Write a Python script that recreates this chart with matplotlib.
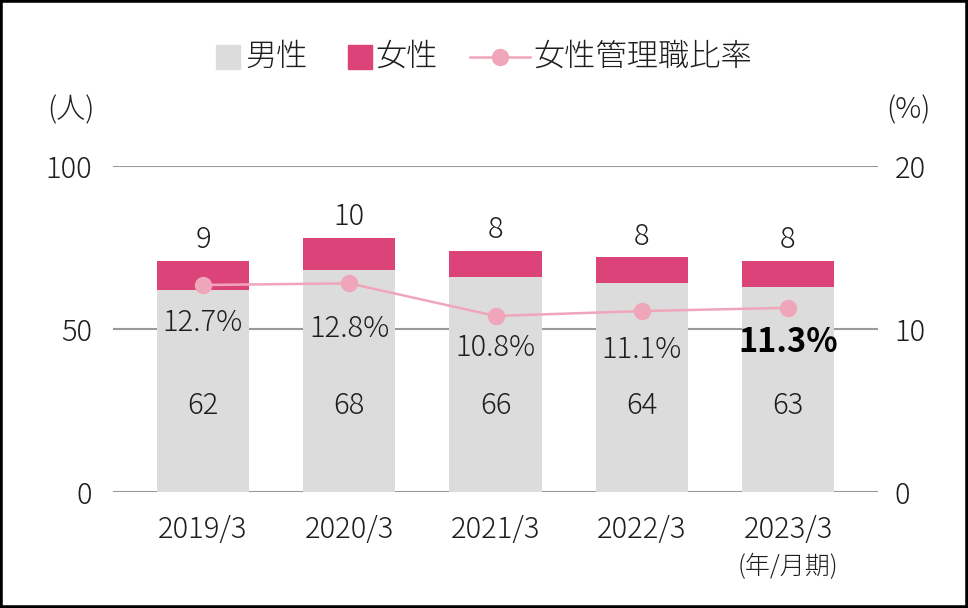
import matplotlib
matplotlib.use('Agg')
import matplotlib.pyplot as plt
from matplotlib.patches import Rectangle
from matplotlib.lines import Line2D
import numpy as np

plt.rcParams['font.family'] = ['Noto Sans CJK JP', 'DejaVu Sans']
plt.rcParams['font.weight'] = 'light'

# data
years = ['2019/3', '2020/3', '2021/3', '2022/3', '2023/3']
male = [62, 68, 66, 64, 63]
female = [9, 10, 8, 8, 8]
ratio = [12.7, 12.8, 10.8, 11.1, 11.3]
# how far the % label sits below each point (pixels)
ratio_label_dy = [38, 45, 32, 39, 35]

c_male = '#dcdcdc'
c_female = '#dc4379'
c_line = '#f0a6ba'
c_text = '#1e1e1e'
fs = 21

W, H = 968, 608
fig = plt.figure(figsize=(W / 100, H / 100), dpi=100)
ax = fig.add_axes([113 / W, 1 - 492 / H, (878 - 113) / W, 326 / H])
ax2 = ax.twinx()

x = np.arange(len(years))
ax.bar(x, male, width=0.63, color=c_male, zorder=2)
ax.bar(x, female, width=0.63, bottom=male, color=c_female, zorder=2)

for v in [0, 50, 100]:
    ax.axhline(v, color='#999999', lw=1.5, zorder=1)

ax.set_ylim(0, 100)
ax.set_xlim(-0.615, 4.615)
ax.set_yticks([0, 50, 100])
ax.set_xticks(x)
ax.set_xticklabels(years)
ax.tick_params(length=0, labelsize=fs, colors=c_text)
ax.tick_params(axis='y', pad=15)
ax.tick_params(axis='x', pad=16)

ax2.set_ylim(0, 20)
ax2.set_yticks([0, 10, 20])
ax2.tick_params(length=0, labelsize=fs, colors=c_text, pad=12)
ax2.plot(x, ratio, color=c_line, lw=1.8, marker='o', ms=11.5, zorder=5)

for a in (ax, ax2):
    for s in a.spines.values():
        s.set_visible(False)

# value labels
for i in range(len(years)):
    ax.text(x[i], male[i] + female[i] + 6.3, str(female[i]), ha='center', va='center',
            fontsize=fs, color=c_text)
    ax.text(x[i], 26.4, str(male[i]), ha='center', va='center', fontsize=fs, color=c_text)
    last = i == len(years) - 1
    ax2.annotate(f'{ratio[i]}%', (x[i], ratio[i]), xytext=(0, -ratio_label_dy[i] * 0.72),
                 textcoords='offset points', ha='center', va='center',
                 fontsize=23.5 if last else fs,
                 fontweight='bold' if last else 'light',
                 color='black' if last else c_text, zorder=6)

ax.text(4, -0.19, '(年/月期)', transform=ax.get_xaxis_transform(), ha='center', va='top',
        fontsize=18, color=c_text)
fig.text(71 / W, 1 - 110 / H, '(人)', ha='center', va='center', fontsize=fs, color=c_text)
fig.text(908 / W, 1 - 110 / H, '(%)', ha='center', va='center', fontsize=fs, color=c_text)

# legend, laid out by hand
lfs = 22.5
ly = 1 - 57 / H
sq = 24
fig.patches.append(Rectangle((216 / W, ly - sq / 2 / H), sq / W, sq / H,
                             transform=fig.transFigure, color=c_male))
fig.text(245 / W, ly, '男性', ha='left', va='center', fontsize=lfs, color=c_text)
fig.patches.append(Rectangle((348 / W, ly - sq / 2 / H), sq / W, sq / H,
                             transform=fig.transFigure, color=c_female))
fig.text(375 / W, ly, '女性', ha='left', va='center', fontsize=lfs, color=c_text)
fig.lines.append(Line2D([470 / W, 530 / W], [ly, ly], transform=fig.transFigure,
                        color=c_line, lw=1.8))
fig.lines.append(Line2D([500 / W], [ly], transform=fig.transFigure, color=c_line,
                        marker='o', ms=11.5))
fig.text(533 / W, ly, '女性管理職比率', ha='left', va='center', fontsize=lfs, color=c_text)

fig.patches.append(Rectangle((0, 0), 1, 1, transform=fig.transFigure, fill=False,
                             edgecolor='black', lw=4))

fig.savefig('out.png', dpi=100)
